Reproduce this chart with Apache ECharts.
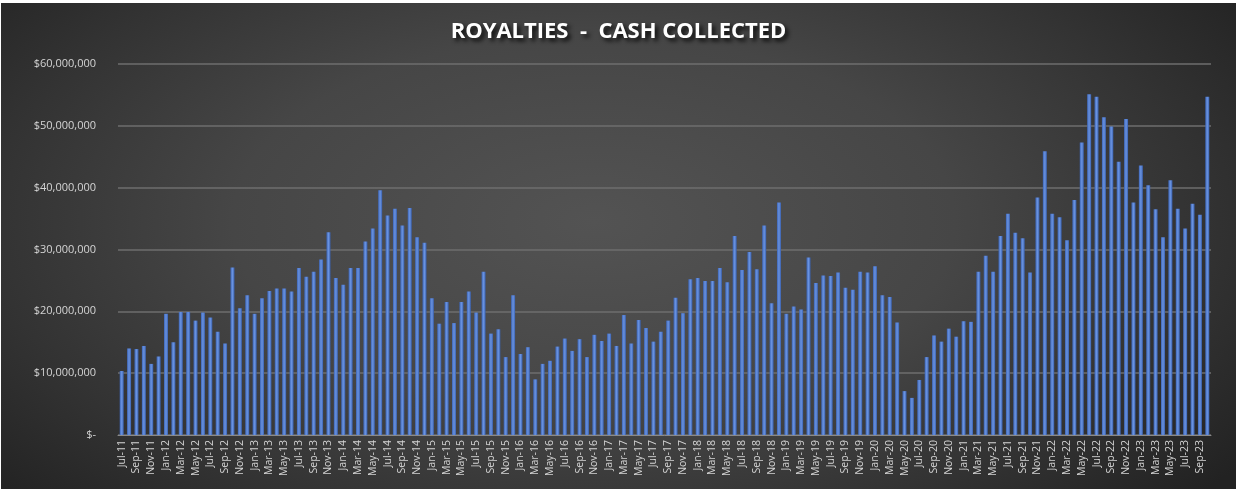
<!DOCTYPE html>
<html>
<head>
<meta charset="utf-8">
<script src="https://cdn.jsdelivr.net/npm/echarts@6/dist/echarts.min.js"></script>
<style>
html,body{margin:0;padding:0;background:#ffffff;}
#chart{position:absolute;left:1px;top:3px;width:1235px;height:486px;
background:radial-gradient(ellipse 65% 85% at 48% 45%, #535353 0%, #464646 45%, #333333 75%, #222222 100%);}
</style>
</head>
<body>
<div id="chart"></div>
<script>
const categories = [
'Jul-11','Aug-11','Sep-11','Oct-11','Nov-11','Dec-11',
'Jan-12','Feb-12','Mar-12','Apr-12','May-12','Jun-12','Jul-12','Aug-12','Sep-12','Oct-12','Nov-12','Dec-12',
'Jan-13','Feb-13','Mar-13','Apr-13','May-13','Jun-13','Jul-13','Aug-13','Sep-13','Oct-13','Nov-13','Dec-13',
'Jan-14','Feb-14','Mar-14','Apr-14','May-14','Jun-14','Jul-14','Aug-14','Sep-14','Oct-14','Nov-14','Dec-14',
'Jan-15','Feb-15','Mar-15','Apr-15','May-15','Jun-15','Jul-15','Aug-15','Sep-15','Oct-15','Nov-15','Dec-15',
'Jan-16','Feb-16','Mar-16','Apr-16','May-16','Jun-16','Jul-16','Aug-16','Sep-16','Oct-16','Nov-16','Dec-16',
'Jan-17','Feb-17','Mar-17','Apr-17','May-17','Jun-17','Jul-17','Aug-17','Sep-17','Oct-17','Nov-17','Dec-17',
'Jan-18','Feb-18','Mar-18','Apr-18','May-18','Jun-18','Jul-18','Aug-18','Sep-18','Oct-18','Nov-18','Dec-18',
'Jan-19','Feb-19','Mar-19','Apr-19','May-19','Jun-19','Jul-19','Aug-19','Sep-19','Oct-19','Nov-19','Dec-19',
'Jan-20','Feb-20','Mar-20','Apr-20','May-20','Jun-20','Jul-20','Aug-20','Sep-20','Oct-20','Nov-20','Dec-20',
'Jan-21','Feb-21','Mar-21','Apr-21','May-21','Jun-21','Jul-21','Aug-21','Sep-21','Oct-21','Nov-21','Dec-21',
'Jan-22','Feb-22','Mar-22','Apr-22','May-22','Jun-22','Jul-22','Aug-22','Sep-22','Oct-22','Nov-22','Dec-22',
'Jan-23','Feb-23','Mar-23','Apr-23','May-23','Jun-23','Jul-23','Aug-23','Sep-23','Oct-23'
];
// Cash collected, in millions of dollars
const cashCollectedM = [
10.35,14.0,13.9,14.4,11.5,12.7,
19.6,15.0,19.9,19.9,18.5,19.8,19.0,16.7,14.8,27.1,20.5,22.6,
19.6,22.1,23.3,23.7,23.7,23.2,27.0,25.6,26.4,28.4,32.8,25.4,
24.3,27.0,27.0,31.3,33.4,39.6,35.5,36.6,33.9,36.7,32.0,31.1,
22.1,18.0,21.5,18.1,21.5,23.2,19.8,26.4,16.4,17.1,12.6,22.6,
13.1,14.2,9.0,11.5,12.0,14.3,15.6,13.6,15.5,12.6,16.2,15.2,
16.4,14.4,19.4,14.8,18.6,17.3,15.1,16.7,18.5,22.2,19.7,25.2,
25.4,24.9,24.9,27.0,24.7,32.2,26.7,29.6,26.8,33.9,21.3,37.6,
19.6,20.8,20.3,28.7,24.6,25.8,25.7,26.3,23.8,23.5,26.4,26.3,
27.3,22.6,22.3,18.2,7.1,6.0,8.9,12.6,16.1,15.1,17.2,15.9,
18.4,18.3,26.4,29.0,26.4,32.2,35.8,32.7,31.8,26.3,38.4,45.9,
35.8,35.2,31.5,38.0,47.3,55.1,54.7,51.4,49.9,44.2,51.1,37.6,
43.6,40.4,36.5,32.0,41.2,36.6,33.4,37.4,35.6,54.7
];
const titleText = 'ROYALTIES  -  CASH COLLECTED';
const yMin = 0, yMax = 60, yStep = 10;

const chart = echarts.init(document.getElementById('chart'), null, {renderer:'canvas'});
const labelColor = '#d4d4d4';
chart.setOption({
  backgroundColor: 'transparent',
  animation: false,
  title: {
    text: titleText,
    left: 'center',
    top: 13,
    textStyle: {
      color: '#ffffff',
      fontSize: 22,
      fontWeight: 'bold',
      fontFamily: "'Open Sans', sans-serif",
      textShadowColor: 'rgba(0,0,0,0.85)',
      textShadowBlur: 4,
      textShadowOffsetX: 3,
      textShadowOffsetY: 3
    }
  },
  grid: { left: 117, right: 25, top: 61, bottom: 54, containLabel: false },
  xAxis: {
    type: 'category',
    data: categories,
    axisLine: { show: true, lineStyle: { color: '#8a8a8a', width: 1 } },
    axisTick: { show: false },
    axisLabel: {
      interval: 1,
      rotate: 90,
      color: labelColor,
      fontSize: 10.5,
      fontFamily: "'Open Sans', sans-serif",
      margin: 5
    }
  },
  yAxis: {
    type: 'value',
    min: yMin, max: yMax, interval: yStep,
    axisLine: { show: false },
    axisTick: { show: false },
    splitLine: { lineStyle: { color: '#6e6e6e', width: 1.5 } },
    axisLabel: {
      color: labelColor,
      fontSize: 11,
      fontFamily: "'Open Sans', sans-serif",
      margin: 22,
      formatter: v => v === 0 ? '$-' : '$' + (v * 1e6).toLocaleString('en-US')
    }
  },
  series: [{
    type: 'bar',
    data: cashCollectedM,
    barWidth: 4,
    itemStyle: {
      color: new echarts.graphic.LinearGradient(0, 0, 1, 0, [
        { offset: 0, color: '#3d66b8' },
        { offset: 0.5, color: '#6a93e0' },
        { offset: 1, color: '#3a62b2' }
      ])
    }
  }]
});
</script>
</body>
</html>
